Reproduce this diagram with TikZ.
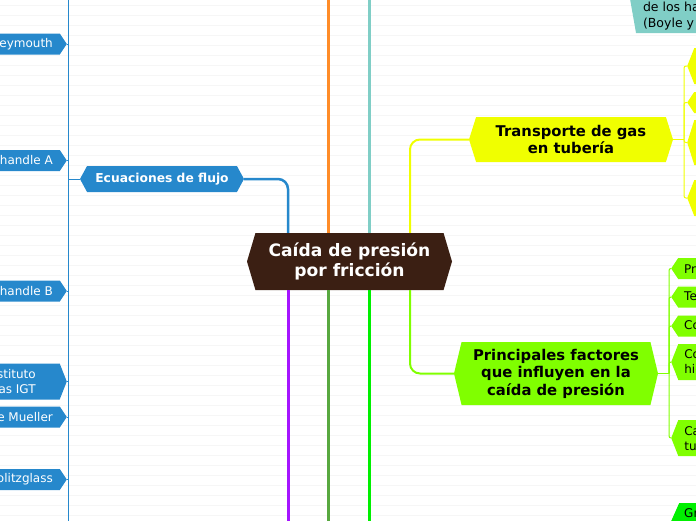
\documentclass[tikz,border=0pt]{standalone}
\usepackage{fontspec}
\setmainfont{DejaVu Sans}
\usetikzlibrary{shapes.symbols, positioning}
\definecolor{trunkbrown}{RGB}{59,31,19}
\definecolor{flowblue}{RGB}{38,136,204}
\definecolor{branchorange}{RGB}{255,140,40}
\definecolor{lawteal}{RGB}{128,206,198}
\definecolor{gasyellow}{RGB}{240,255,0}
\definecolor{factorlime}{RGB}{128,255,0}
\definecolor{branchpurple}{RGB}{165,20,255}
\definecolor{branchgreen}{RGB}{88,168,64}
\definecolor{brightgreen}{RGB}{0,240,0}
\definecolor{ruleline}{RGB}{246,246,246}

\begin{document}
\begin{tikzpicture}[x=1pt, y=-1pt,
    hexbox/.style={signal, signal to=west and east, inner xsep=0pt, inner ysep=0pt, align=center},
    trunk/.style={hexbox, fill=trunkbrown, text=white, minimum width=205pt, minimum height=57pt, signal pointer angle=147, font=\fontsize{17.1}{20}\selectfont\bfseries},
    mainbox/.style={hexbox, minimum width=204pt, font=\fontsize{14.8}{17.5}\selectfont\bfseries},
    leaf/.style={hexbox, inner xsep=7pt, minimum height=21pt, signal pointer angle=113, font=\fontsize{12}{15}\selectfont},
    tallleaf/.style={leaf, minimum height=36pt, signal pointer angle=137},
    branch/.style={line width=3pt},
    twig/.style={line width=1pt}
]
    \useasboundingbox (0,0) rectangle (696,520);
    \clip (0,0) rectangle (696,520);

    % ruled background
    \foreach \y in {5,15,...,515}
        \draw[ruleline, line width=1pt] (0,\y) -- (696,\y);

    % Centre
    \node[trunk] (drop) at (349.5,261.5) {Caída de presión\\por fricción};

    % First level
    \node[mainbox, fill=flowblue, text=white, minimum width=164pt, minimum height=26pt, signal pointer angle=123, font=\fontsize{12.3}{15}\selectfont\bfseries] (flow) at (162,179) {Ecuaciones de flujo};
    \node[mainbox, fill=gasyellow, minimum height=45pt, signal pointer angle=145] (pipe) at (571,139.5) {Transporte de gas\\en tubería};
    \node[mainbox, fill=factorlime, minimum height=63pt, signal pointer angle=153] (factors) at (556,373.5) {Principales factores\\que influyen en la\\caída de presión};

    % Flow equations
    \node[leaf, fill=flowblue, text=white, anchor=east] (weymouth) at (67,44) {Weymouth};
    \node[leaf, fill=flowblue, text=white, anchor=east] (panA) at (67,160.5) {Panhandle A};
    \node[leaf, fill=flowblue, text=white, anchor=east] (panB) at (67,291) {Panhandle B};
    \node[tallleaf, fill=flowblue, text=white, anchor=east, align=right, inner xsep=24pt] (igt) at (67,381.5) {Instituto\\de Gas IGT};
    \node[leaf, fill=flowblue, text=white, anchor=east] (mueller) at (67,417) {Ecuación de Mueller};
    \node[leaf, fill=flowblue, text=white, anchor=east] (spitz) at (67,479.5) {Spolitzglass};

    % Pipe transport
    \node[tallleaf, fill=gasyellow, anchor=west, minimum width=40pt] (pipeA) at (687,66) {};
    \node[leaf, fill=gasyellow, anchor=west, minimum width=40pt] (pipeB) at (687,102.5) {};
    \node[tallleaf, fill=gasyellow, anchor=west, minimum width=40pt, minimum height=45pt, signal pointer angle=145] (pipeC) at (687,142.5) {};
    \node[tallleaf, fill=gasyellow, anchor=west, minimum width=40pt] (pipeD) at (687,198) {};

    % Factors
    \node[leaf, fill=factorlime, anchor=west, align=left, inner xsep=6pt] (pressure) at (671,268.5) {Presión};
    \node[leaf, fill=factorlime, anchor=west, align=left, inner xsep=6pt] (temperature) at (671,297) {Temperatura};
    \node[leaf, fill=factorlime, anchor=west, align=left, inner xsep=6pt] (composition) at (671,326) {Composición del gas};
    \node[tallleaf, fill=factorlime, anchor=west, align=left, inner xsep=6pt] (hydraulic) at (671,362) {Condiciones\\hidráulicas};
    \node[tallleaf, fill=factorlime, anchor=west, align=left, inner xsep=6pt] (pipechar) at (671,438) {Características de la\\tubería};

    % Off-screen branches
    \node[tallleaf, fill=lawteal, anchor=west, align=left, inner xsep=7pt, minimum height=66pt, signal pointer angle=160, font=\fontsize{12.5}{16}\selectfont] (gaslaw) at (630,0) {Ley general de los\\gases, combinación\\de los hallazgos\\(Boyle y Charles)};
    \node[tallleaf, fill=brightgreen, anchor=west, align=left, inner xsep=5pt, signal pointer angle=132] (gravity) at (671,521) {Gravedad específica\\del gas};

    % Branch ends
    \coordinate (orangetop) at (328,-2);
    \coordinate (tealtop) at (369,-2);
    \coordinate (purplebottom) at (288,522);
    \coordinate (greenbottom) at (328,522);
    \coordinate (brightbottom) at (369,522);
    \coordinate (flowtop) at (68,-2);
    \coordinate (flowbottom) at (68,522);
    \coordinate (flowjoint) at (68,179);
    \coordinate (pipejoint) at (684,139.5);
    \coordinate (factorjoint) at (669,373.5);

    % Main branches
    \draw[branch, flowblue, line width=2.5pt, rounded corners=10pt] ([xshift=-61.5pt]drop.north) |- (flow.east);
    \draw[branch, branchorange] ([xshift=-21.5pt]drop.north) -- (orangetop);
    \draw[branch, lawteal] ([xshift=19.5pt]drop.north) -- (tealtop);
    \draw[branch, gasyellow, line width=2pt, rounded corners=10pt] ([xshift=60.5pt]drop.north) |- (pipe.west);
    \draw[branch, branchpurple] ([xshift=-61.5pt]drop.south) -- (purplebottom);
    \draw[branch, branchgreen] ([xshift=-21.5pt]drop.south) -- (greenbottom);
    \draw[branch, brightgreen] ([xshift=19.5pt]drop.south) -- (brightbottom);
    \draw[branch, factorlime, line width=2pt, rounded corners=10pt] ([xshift=60.5pt]drop.south) |- (factors.west);

    % Sub branches
    \draw[twig, flowblue] (flow.west) -- (flowjoint);
    \draw[twig, flowblue] (flowtop) -- (flowbottom);
    \foreach \n in {weymouth, panA, panB, igt, mueller, spitz}
        \draw[twig, flowblue] (flowjoint) |- (\n.east);
    \draw[twig, gasyellow] (pipe.east) -- (pipejoint);
    \foreach \n in {pipeA, pipeB, pipeC, pipeD}
        \draw[twig, gasyellow, rounded corners=2pt] (pipejoint) |- (\n.west);
    \draw[twig, factorlime] (factors.east) -- (factorjoint);
    \foreach \n in {pressure, temperature, composition, hydraulic, pipechar}
        \draw[twig, factorlime, rounded corners=2pt] (factorjoint) |- (\n.west);
\end{tikzpicture}
\end{document}
